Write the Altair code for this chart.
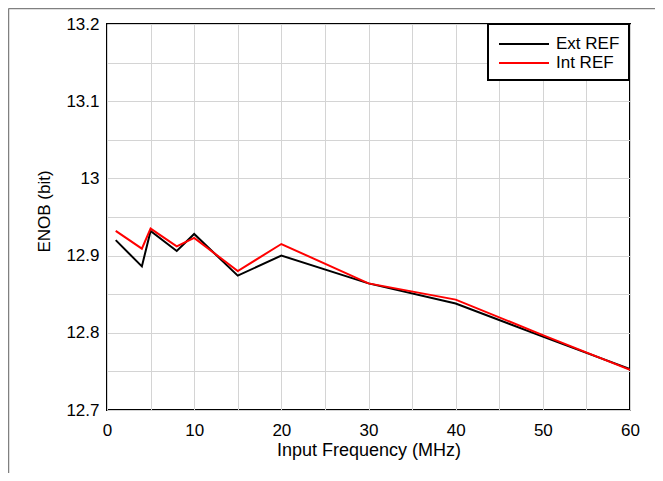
import altair as alt
import pandas as pd

freq = [1, 4, 5, 8, 10, 15, 20, 30, 40, 50, 60]
ext_ref = [12.920, 12.886, 12.932, 12.906, 12.928, 12.874, 12.900, 12.864, 12.838, 12.795, 12.753]
int_ref = [12.932, 12.909, 12.935, 12.912, 12.923, 12.880, 12.915, 12.864, 12.843, 12.797, 12.752]
series = ["Ext REF", "Int REF"]
colors = ["#000000", "#ff0000"]
x_ticks = list(range(0, 65, 5))
y_ticks = [round(12.7 + 0.05 * i, 2) for i in range(11)]

rows = []
for f, v in zip(freq, ext_ref):
    rows.append({"freq": f, "enob": v, "series": series[0]})
for f, v in zip(freq, int_ref):
    rows.append({"freq": f, "enob": v, "series": series[1]})
df = pd.DataFrame(rows)

FONT = "Liberation Sans"

lines = alt.Chart(df).mark_line(strokeWidth=2, clip=True).encode(
    x=alt.X("freq:Q", scale=alt.Scale(domain=[0, 60], nice=False),
            axis=alt.Axis(values=x_ticks, title="Input Frequency (MHz)",
                          labelExpr="datum.value % 10 == 0 ? datum.label : ''",
                          labelFlush=False, labelPadding=12, titlePadding=3,
                          titleFontSize=18)),
    y=alt.Y("enob:Q", scale=alt.Scale(domain=[12.7, 13.2], nice=False, zero=False),
            axis=alt.Axis(values=y_ticks, title="ENOB (bit)", format="~g",
                          labelExpr="round(datum.value * 100) % 10 == 0 ? datum.label : ''",
                          labelFlush=False, labelPadding=8, titlePadding=12,
                          titleY=187)),
    color=alt.Color("series:N", scale=alt.Scale(domain=series, range=colors),
                    legend=alt.Legend(title=None, orient="none", legendX=381, legendY=0,
                                      symbolType="M-2.5,0H2.5", symbolSize=400,
                                      symbolStrokeWidth=2, symbolOffset=16,
                                      labelOffset=21, padding=9, rowPadding=0,
                                      labelExpr="datum.label + '\u00a0\u00a0'",
                                      fillColor="white", strokeColor="black",
                                      labelFontSize=17, labelFont=FONT,
                                      labelColor="black")),
    detail="series:N",
)

frame_top = alt.Chart(alt.Data(values=[{}])).mark_rule(color="#808080", strokeWidth=1.5).encode(
    x=alt.value(-98.5), x2=alt.value(548), y=alt.value(-15.5))
frame_left = alt.Chart(alt.Data(values=[{}])).mark_rule(color="#808080", strokeWidth=1.5).encode(
    x=alt.value(-98.5), y=alt.value(-15.5), y2=alt.value(449))

chart = alt.layer(lines, frame_top, frame_left).properties(
    width=523, height=386,
    autosize=alt.AutoSizeParams(type="none"),
    padding={"left": 99, "top": 16, "right": 25, "bottom": 63},
).configure_view(
    stroke="black", strokeWidth=2
).configure_axis(
    grid=True, gridColor="#d4d4d4", gridWidth=1,
    ticks=False, tickSize=0, domain=False,
    labelFont=FONT, labelFontSize=17, labelColor="black",
    titleFont=FONT, titleFontSize=17, titleColor="black", titleFontWeight="normal",
).configure_legend(
    strokeWidth=2
)

chart.save("out.html", embed_options={"renderer": "svg", "actions": False})
